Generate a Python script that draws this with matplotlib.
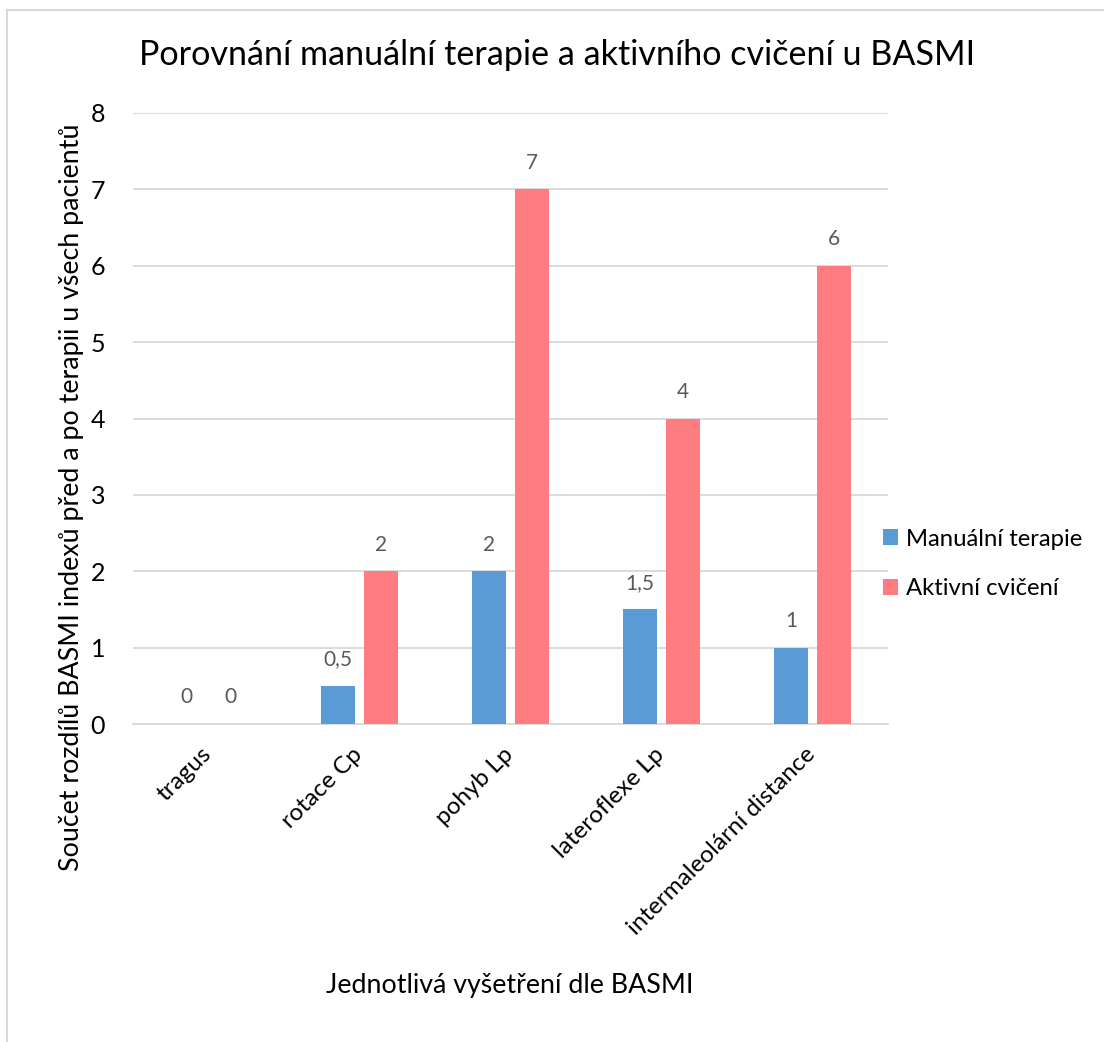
import matplotlib
matplotlib.use("Agg")
import matplotlib.pyplot as plt
import matplotlib.transforms as mtransforms
import numpy as np
from matplotlib.lines import Line2D
from matplotlib.patches import Patch

categories = ["tragus", "rotace Cp", "pohyb Lp", "lateroflexe Lp", "intermaleolární distance"]
manualni = [0, 0.5, 2, 1.5, 1]
aktivni = [0, 2, 7, 4, 6]
series_names = ["Manuální terapie", "Aktivní cvičení"]
colors = ["#5B9BD5", "#FF7C80"]

plt.rcParams['font.family'] = ['Lato', 'DejaVu Sans']

W, H = 1104, 1042
fig = plt.figure(figsize=(W/100, H/100), dpi=100)
ax = fig.add_axes([133/W, 1-724/H, (888-133)/W, (724-113)/H])

x = np.arange(len(categories))
bw = 0.225
off = 0.143
b1 = ax.bar(x - off, manualni, bw, color=colors[0], zorder=3)
b2 = ax.bar(x + off, aktivni, bw, color=colors[1], zorder=3)

def fmt(v):
    return ("%g" % v).replace(".", ",")

for bars, vals in ((b1, manualni), (b2, aktivni)):
    for r, v in zip(bars, vals):
        ax.annotate(fmt(v), (r.get_x() + r.get_width()/2, v), xytext=(0, 12),
                    textcoords="offset points", ha="center", va="bottom",
                    fontsize=15, color="#595959")

ax.set_xlim(-0.5, len(categories) - 0.5)
ax.set_ylim(0, 8)
ax.set_yticks(range(0, 9))
ax.yaxis.grid(True, color="#D9D9D9", linewidth=1.3, zorder=0)
ax.set_axisbelow(True)
for s in ["top", "right", "left"]:
    ax.spines[s].set_visible(False)
ax.spines["bottom"].set_color("#D9D9D9")
ax.spines["bottom"].set_linewidth(1.3)
ax.tick_params(axis="both", length=0, labelsize=18, colors="black")
ax.tick_params(axis="y", pad=20)
ax.set_xticks(x)
ax.set_xticklabels(categories, rotation=45, ha="right", va="top",
                   rotation_mode="anchor", fontsize=17.5)
ax.tick_params(axis="x", pad=14)
shift = mtransforms.ScaledTranslation(-8/100, 0, fig.dpi_scale_trans)
for lbl in ax.get_xticklabels():
    lbl.set_transform(lbl.get_transform() + shift)

fig.text(557/W, 1-55/H, "Porovnání manuální terapie a aktivního cvičení u BASMI",
         ha="center", va="center", fontsize=24.6)
fig.text(72/W, 1-497/H, "Součet rozdílů BASMI indexů před a po terapii u všech pacientů",
         ha="center", va="center", rotation=90, fontsize=19.3)
fig.text(510/W, 1-985/H, "Jednotlivá vyšetření dle BASMI",
         ha="center", va="center", fontsize=19.3)

handles = [Patch(facecolor=c, edgecolor="none") for c in colors]
fig.legend(handles, series_names, loc="center left", bbox_to_anchor=(861/W, 1-564/H),
           frameon=False, fontsize=17.2, handlelength=0.65, handleheight=0.65,
           handletextpad=0.35, labelspacing=1.2)

fig.add_artist(Line2D([7/W, 7/W], [0, 1-10/H], color="#D9D9D9", linewidth=1.5))
fig.add_artist(Line2D([7/W, 1], [1-10/H, 1-10/H], color="#D9D9D9", linewidth=1.5))

fig.savefig("out.png", dpi=100)
